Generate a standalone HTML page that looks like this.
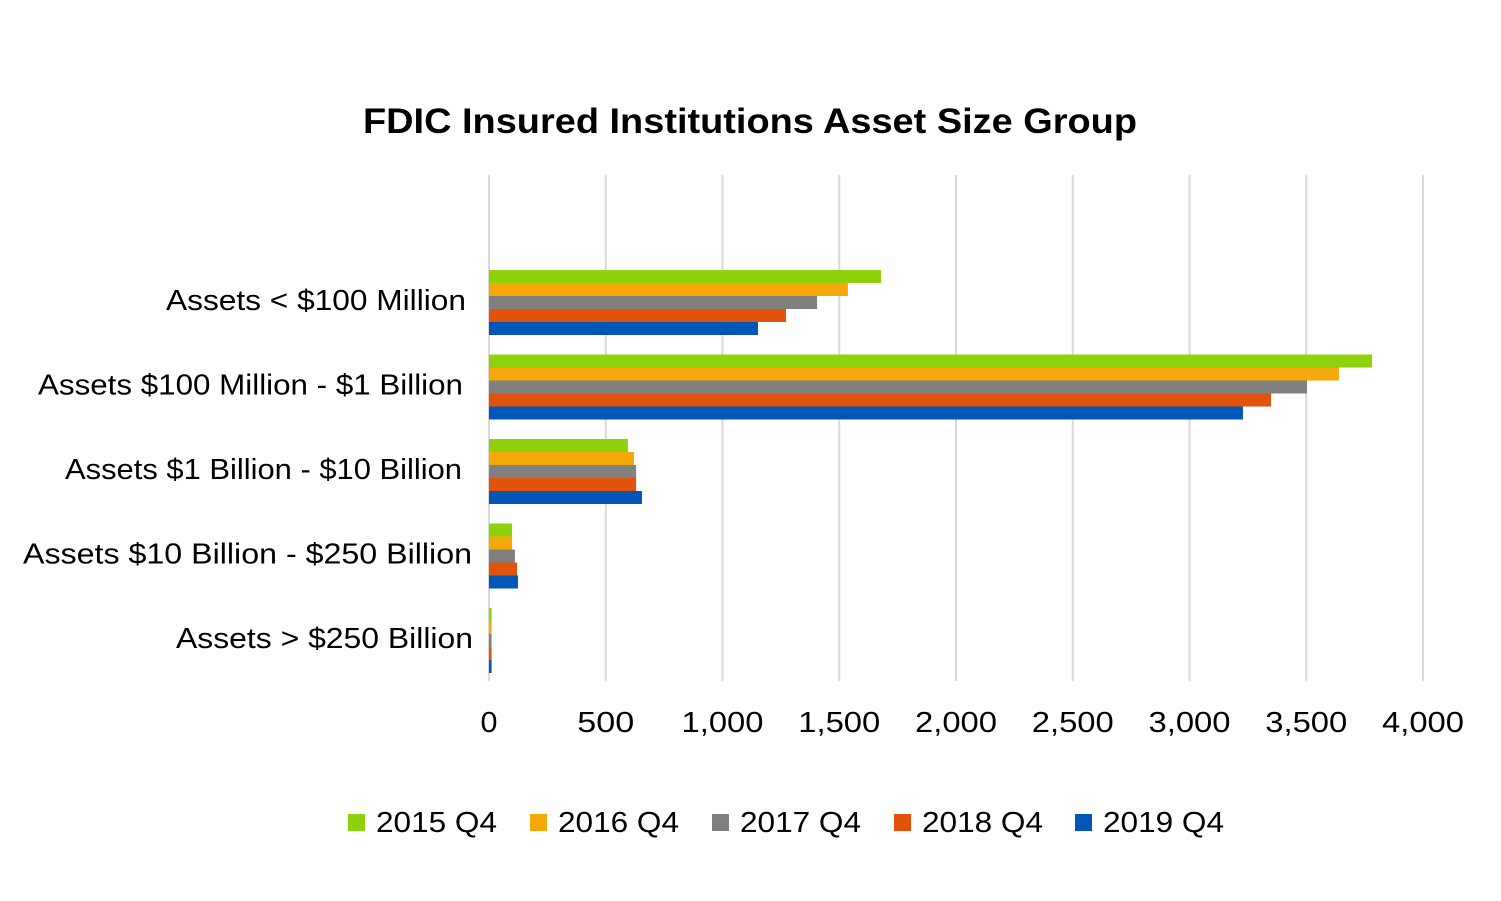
<!DOCTYPE html>
<html><head><meta charset="utf-8"><style>
html,body{margin:0;padding:0;background:#fff;}
svg{display:block;font-family:"Liberation Sans",sans-serif;}
</style></head><body>
<svg id="chart" width="1501" height="901">
<text x="363" y="133" font-size="35" font-weight="bold" textLength="774" lengthAdjust="spacingAndGlyphs">FDIC Insured Institutions Asset Size Group</text>
<g id="grid"></g><g id="bars"></g><g id="labels"></g><g id="legend"></g>
</svg>
<script>
const categories = ["Assets < $100 Million","Assets $100 Million - $1 Billion","Assets $1 Billion - $10 Billion","Assets $10 Billion - $250 Billion","Assets > $250 Billion"];
const seriesNames = ["2015 Q4","2016 Q4","2017 Q4","2018 Q4","2019 Q4"];
const s2015 = [1679,3782,595,99,11];
const s2016 = [1537,3640,621,99,11];
const s2017 = [1405,3503,630,111,11];
const s2018 = [1272,3349,630,120,11];
const s2019 = [1152,3229,655,124,11];
const xTicks = [0,500,1000,1500,2000,2500,3000,3500,4000];
const xTickLabels = ["0","500","1,000","1,500","2,000","2,500","3,000","3,500","4,000"];
const colors = ["#8fd10a","#f4a80a","#808080","#e2520a","#0057b8"];
const series=[s2015,s2016,s2017,s2018,s2019];
const NS="http://www.w3.org/2000/svg";
const x0=489, xPer=(1423-489)/4000;
const xs=v=>x0+v*xPer;
const bandTop=i=>258+i*84.5;
const labelLeft=[166,38,65,23,176], labelRight=[466,463,462,472,473];
const grid=document.getElementById('grid'), bars=document.getElementById('bars'), labels=document.getElementById('labels'), legend=document.getElementById('legend');
function mk(t,a,p){const e=document.createElementNS(NS,t);for(const k in a)e.setAttribute(k,a[k]);p.appendChild(e);return e;}
xTicks.forEach((t,i)=>{
  const l=mk('line',{x1:xs(t),x2:xs(t),y1:175,y2:681,stroke:'#d9d9d9','stroke-width':2},grid);
  
  
  const s=xTickLabels[i];
  const w=s.length===1?17:(s.length===3?57:82);
  const tx=mk('text',{x:xs(t)-w/2,y:732,'font-size':29,textLength:w,lengthAdjust:'spacingAndGlyphs'},labels);
  tx.textContent=s;
  
  
});
categories.forEach((c,i)=>{
  const tx=mk('text',{x:labelLeft[i],y:bandTop(i)+52,'font-size':29,textLength:labelRight[i]-labelLeft[i],lengthAdjust:'spacingAndGlyphs'},labels);
  tx.textContent=c;
  
  
  series.forEach((s,j)=>{
    const r=mk('rect',{x:x0,y:bandTop(i)+12+j*13,width:Math.max(0,xs(s[i])-x0),height:13,fill:colors[j]},bars);
    
    
  });
});
const legX=[348,530,712,894,1075];
seriesNames.forEach((n,j)=>{
  const r=mk('rect',{x:legX[j],y:814,width:17,height:17,fill:colors[j]},legend);
  
  
  const tx=mk('text',{x:legX[j]+28,y:832,'font-size':29,textLength:121,lengthAdjust:'spacingAndGlyphs'},legend);
  tx.textContent=n;
  
  
});
</script>
</body></html>
